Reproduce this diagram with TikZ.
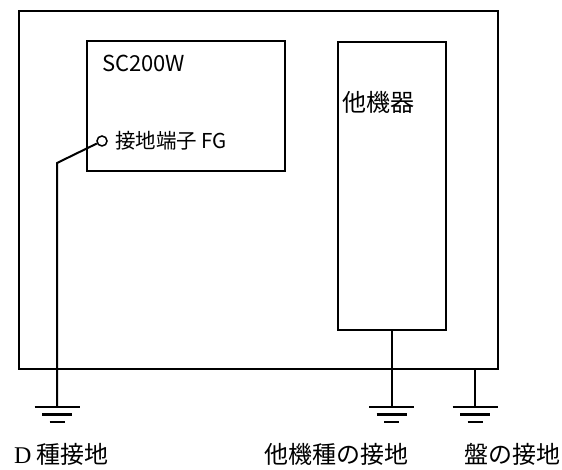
\documentclass[tikz,border=0pt]{standalone}
\usepackage{fontspec}
\usepackage{tikz}
\usetikzlibrary{positioning}
\newfontfamily\jp{Noto Sans CJK JP}
\newfontfamily\serifD{Liberation Serif}

\begin{document}
\begin{tikzpicture}[x=1pt,y=-1pt,line width=2pt,
    box/.style={draw, rectangle, inner sep=0pt},
    lbl/.style={inner sep=0pt, anchor=west, font=\jp\fontsize{24pt}{26pt}\selectfont}]
      \useasboundingbox (0,0) rectangle (562,470);

      \node[box, minimum width=479pt, minimum height=358pt] (ban) at (258.5,190) {};
      \node[box, minimum width=198pt, minimum height=130pt] (sc) at (186,106) {};
      \node[box, minimum width=108pt, minimum height=288pt] (kiki) at (391.5,186) {};

      \node[lbl, font=\jp\fontsize{22pt}{24pt}\selectfont] (scname) at (101,63) {SC200W};
      \node[lbl] (kikiname) at (341,102) {他機器};

      \node[draw, circle, minimum size=10pt, inner sep=0pt, line width=1.5pt] (fg) at (102,141) {};
      \node[lbl, font=\jp\fontsize{20.5pt}{22pt}\selectfont] (fgname) at (114,141) {接地端子 FG};

      \coordinate (bend) at (57,163);
      \coordinate (gD) at (57,407);
      \coordinate (gO) at (391.5,407);
      \coordinate (gB) at (475,407);

      \draw (fg) -- (bend) -- (gD);
      \draw (kiki.south) -- (gO);
      \draw (ban.south -| gB) -- (gB);

      % earth symbols
      \foreach \g in {gD,gO,gB} {
        \draw[line width=2.5pt] ([xshift=-22.5pt]\g) -- ([xshift=22.5pt]\g);
        \draw[line width=2.5pt] ([xshift=-15pt,yshift=-7.5pt]\g) -- ([xshift=15pt,yshift=-7.5pt]\g);
        \draw[line width=2.5pt] ([xshift=-7.5pt,yshift=-15pt]\g) -- ([xshift=7.5pt,yshift=-15pt]\g);
      }

      \node[lbl] (lD) at (13,454) {{\serifD D} 種接地};
      \node[lbl] (lO) at (263,454) {他機種の接地};
      \node[lbl] (lB) at (463,454) {盤の接地};
    \end{tikzpicture}
\end{document}
